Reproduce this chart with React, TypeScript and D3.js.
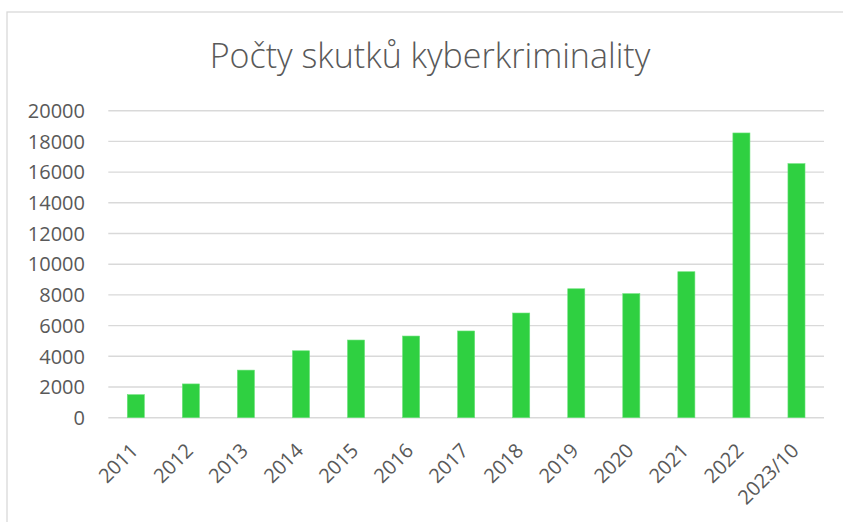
import React from "react";
import * as d3 from "d3";

const categories = ["2011", "2012", "2013", "2014", "2015", "2016", "2017", "2018", "2019", "2020", "2021", "2022", "2023/10"];
const values = [1500, 2200, 3100, 4360, 5060, 5320, 5650, 6820, 8400, 8080, 9510, 18550, 16550];
const yTicks = [0, 2000, 4000, 6000, 8000, 10000, 12000, 14000, 16000, 18000, 20000];
const title = "Počty skutků kyberkriminality";

const W = 843;
const H = 522;
const plot = { left: 108.3, right: 824, top: 110.7, bottom: 417.7 };
const textColor = "#595959";
const gridColor = "#D9D9D9";
const barColor = "#2FD041";
const font = "'Open Sans', 'Noto Sans', sans-serif";

export default function App() {
  const x = d3
    .scaleBand<string>()
    .domain(categories)
    .range([plot.left, plot.right])
    .paddingInner(0.69)
    .paddingOuter(0.345);
  const y = d3.scaleLinear().domain([0, 20000]).range([plot.bottom, plot.top]);
  const bw = x.bandwidth();

  return (
    <svg
      width={W}
      height={H}
      style={{ position: "fixed", left: 0, top: 0, background: "#fff" }}
      fontFamily={font}
    >
      <rect x={0} y={0} width={W} height={H} fill="#fff" />
      <rect x={7} y={12} width={W + 20} height={H + 20} fill="#fff" stroke={gridColor} strokeWidth={1.3} />
      <text x={430} y={68} textAnchor="middle" fontSize={34} fill={textColor} fontWeight={300}>
        {title}
      </text>
      {yTicks.map((t) => (
        <g key={t}>
          <line x1={plot.left} x2={plot.right} y1={y(t)} y2={y(t)} stroke={gridColor} strokeWidth={1.4} />
          <text x={85} y={y(t)} dy="0.36em" textAnchor="end" fontSize={20} fill={textColor}>
            {t}
          </text>
        </g>
      ))}
      {categories.map((c, i) => (
        <rect
          key={c}
          x={x(c)!}
          y={y(values[i])}
          width={bw}
          height={y(0) - y(values[i])}
          fill={barColor}
          stroke="#6BE27A"
          strokeWidth={0.6}
        />
      ))}
      {categories.map((c) => {
        const cx = x(c)! + bw / 2;
        return (
          <text
            key={c}
            transform={`translate(${cx + 3.5},${452}) rotate(-45)`}
            textAnchor="end"
            fontSize={20}
            fill={textColor}
          >
            {c}
          </text>
        );
      })}
    </svg>
  );
}
